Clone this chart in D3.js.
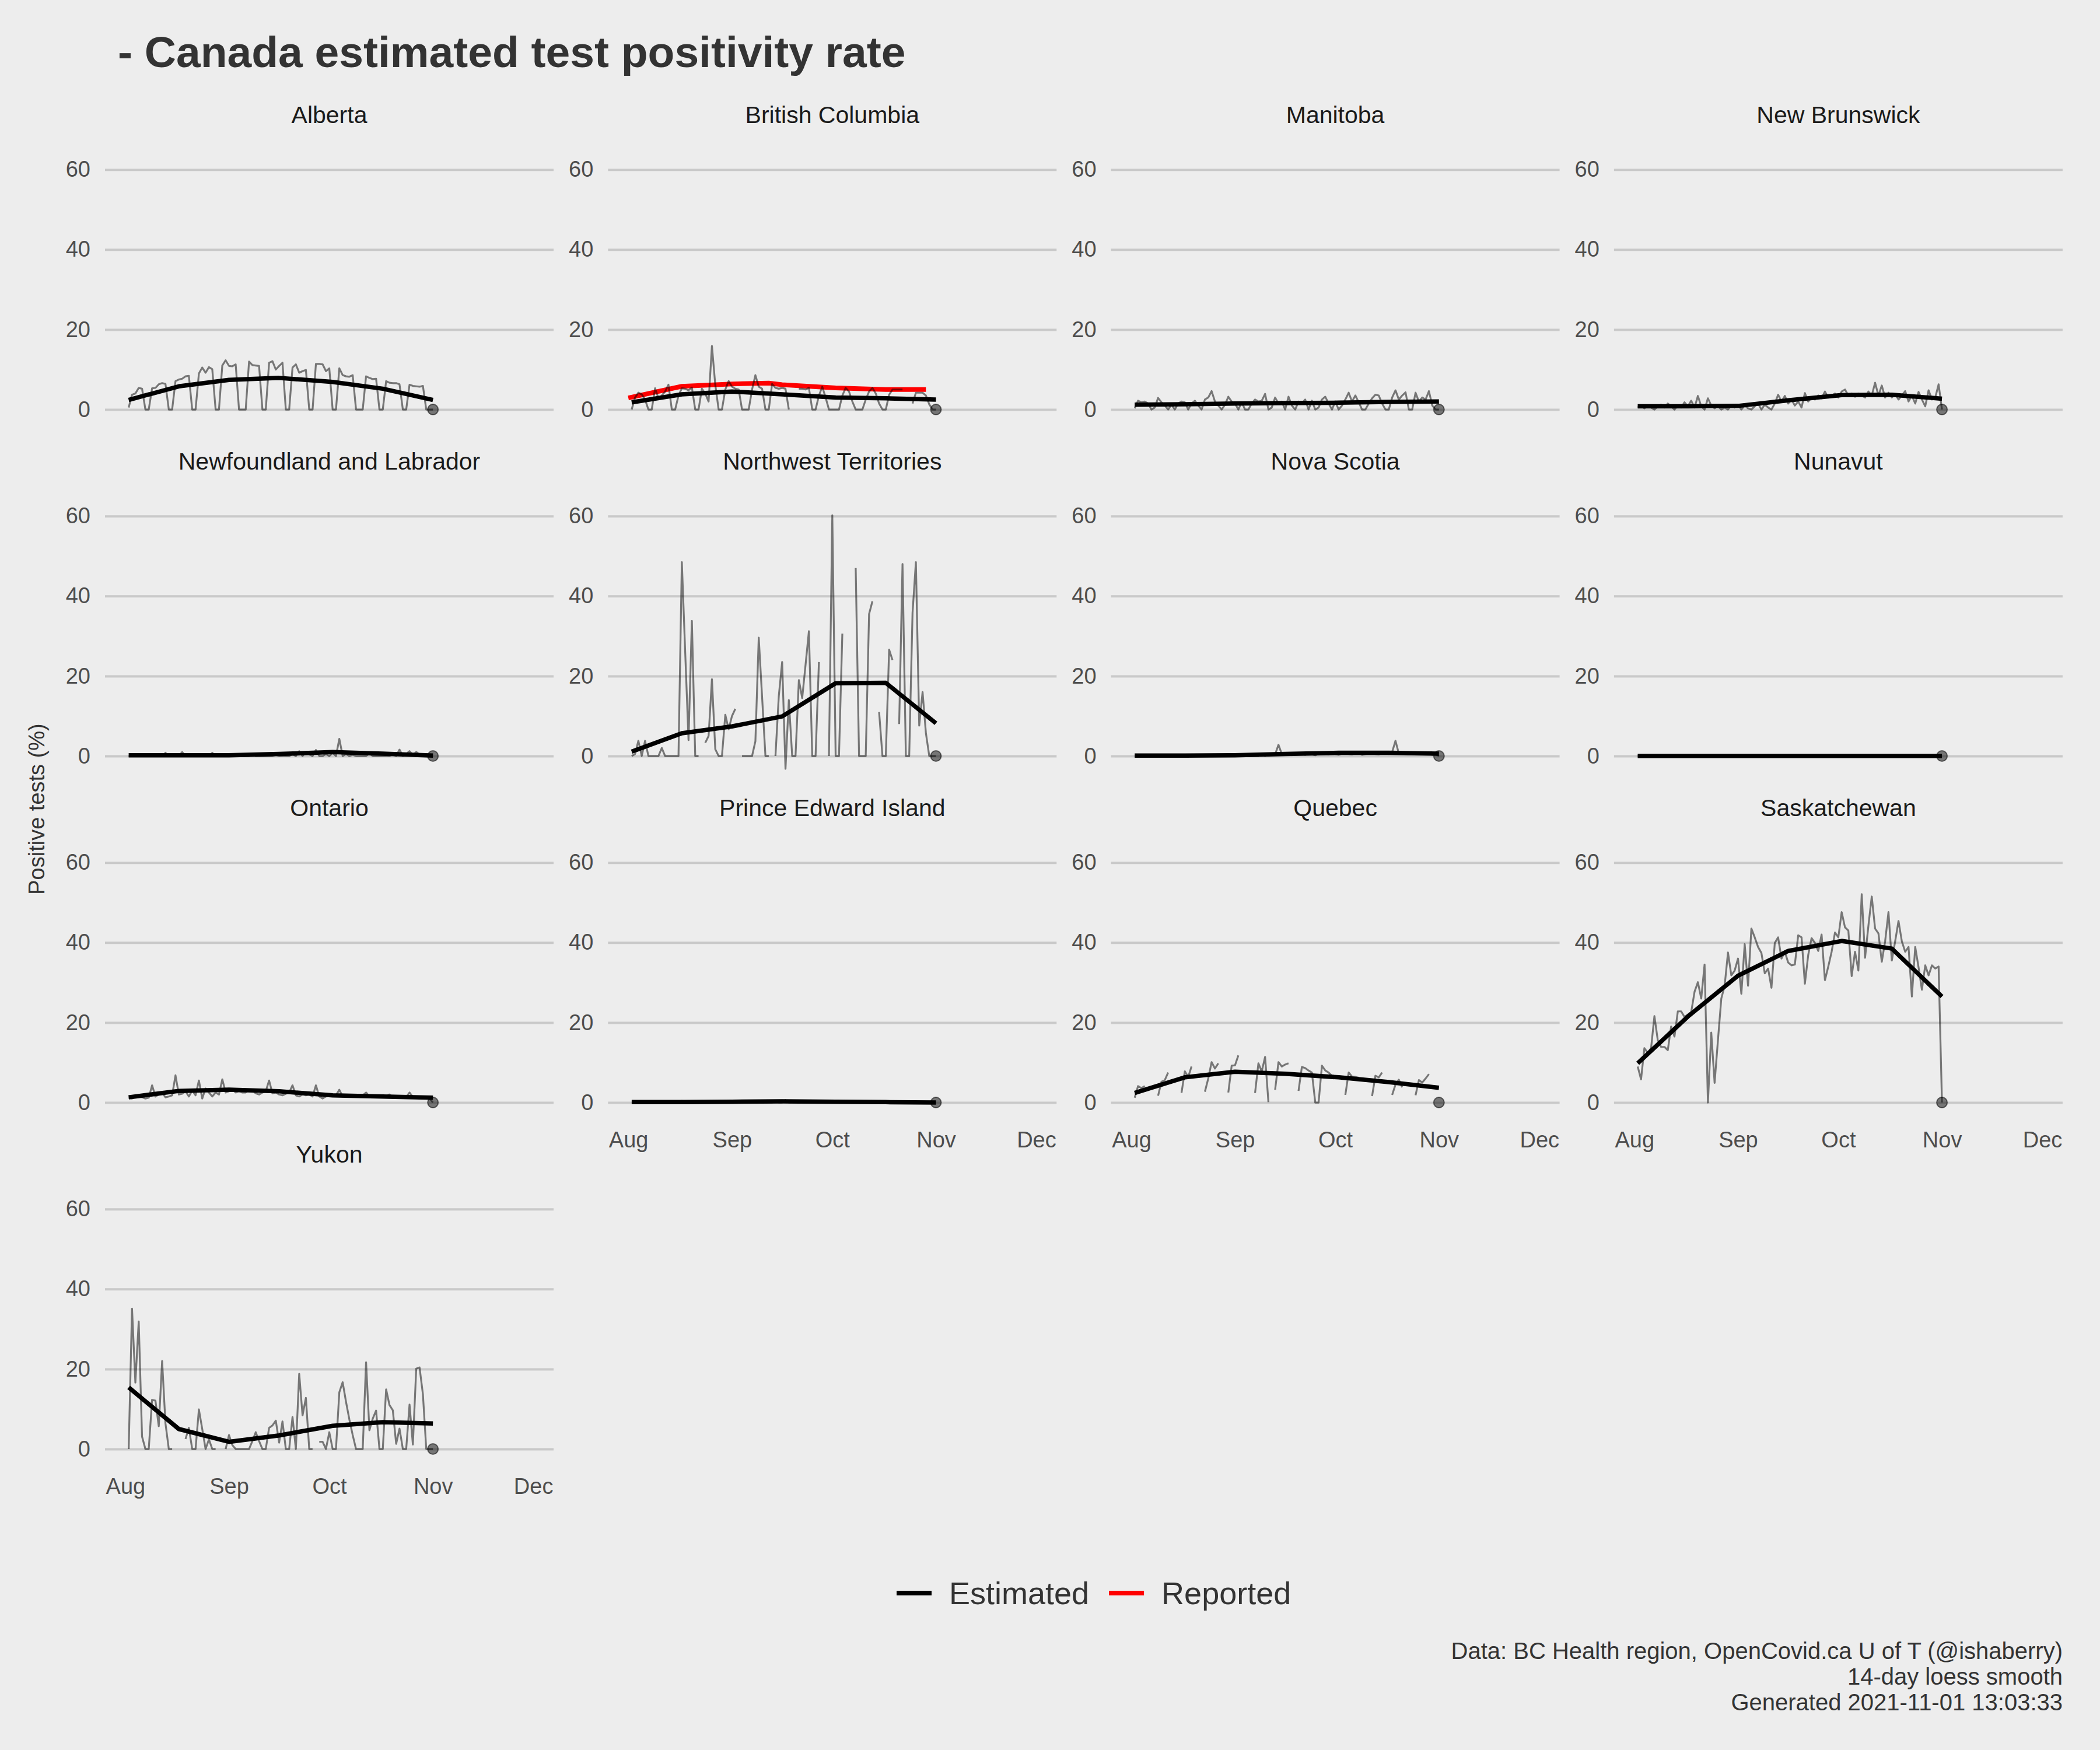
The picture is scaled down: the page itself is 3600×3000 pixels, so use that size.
<!DOCTYPE html>
<meta charset='utf-8'>
<style>
    body {
        margin: 0;
        background: #ededed;
    }
    text {
        font-family: 'Liberation Sans', Arial, sans-serif;
    }
</style>
<body>
<script src='https://d3js.org/d3.v7.min.js'></script>
<script>
    // Facets, in drawing order
    const provinces = [
        'Alberta', 'British Columbia', 'Manitoba', 'New Brunswick',
        'Newfoundland and Labrador', 'Northwest Territories', 'Nova Scotia', 'Nunavut',
        'Ontario', 'Prince Edward Island', 'Quebec', 'Saskatchewan', 'Yukon'
    ];

    // Daily positivity (%), one value per day from this date (Aug 1 .. Nov 1), null = no report
    const startDay = '2021-08-01';

    const rawAlberta = [
        null, 0.5, 3.7, 4.0, 5.4, 5.2, 0, 0, 5.3, 5.4,
        6.3, 6.6, 6.4, 0, 0, 7.1, 7.5, 7.7, 8.3, 8.4,
        0, 0, 9.0, 10.5, 9.2, 10.6, 10.1, 0, 0, 11.0,
        12.3, 10.9, 10.8, 11.3, 0, 0, 0, 12.0, 11.1, 11.0,
        10.9, 0, 0, 11.7, 12.1, 10.0, 10.9, 11.7, 0, 0,
        10.5, 11.3, 9.2, 9.6, 9.9, 0, 0, 11.4, 11.4, 11.3,
        9.6, 10.3, 0, 0, 10.3, 8.6, 8.3, 8.2, 8.6, 0,
        0, 0, 8.3, 7.9, 7.6, 7.7, 0, 0, 7.1, 6.7,
        6.6, 6.6, 6.3, 0, 0, 6.2, 5.9, 5.8, 5.7, 5.9,
        0, 0, 0
    ];
    const rawBC = [
        null, 0, 3.0, 4.2, 3.8, 2.5, 0, 0, 5.3, 2.8,
        3.5, 4.5, 6.2, 0, 0, 3.5, 5.3, 5.2, 4.8, 5.5,
        0, 0, 5.2, 4.0, 2.0, 15.9, 6.2, 0, 0, 5.0,
        7.1, 5.7, 5.2, 5.0, 0, 0, 0, 5.0, 8.6, 5.7,
        5.2, 0, 0, 6.4, 5.4, 5.2, 5.4, 5.2, 0, null,
        null, 5.2, 5.2, 5.0, 5.4, 0, 0, 3.5, 5.7, 3.0,
        0, 0, 0, 0, 3.5, 5.4, 4.5, 2.0, 0, 0,
        0, 2.5, 4.5, 5.4, 4.0, 1.5, 0, 0, 3.7, 5.0,
        5.0, 5.0, 5.0, null, null, 1.5, 4.2, 4.2, 4.2, 3.5,
        1.3, 0, 0
    ];
    const rawManitoba = [
        null, 0.3, 2.2, 1.8, 2.0, 1.5, 0, 0.5, 2.9, 1.8,
        1.0, 0, 1.2, 0, 1.5, 2.0, 1.8, 0, 1.5, 2.2,
        1.0, 0, 2.5, 3.0, 4.6, 2.0, 1.0, 0, 1.2, 3.2,
        2.0, 1.5, 0, 1.8, 0, 0, 1.5, 2.5, 2.0, 2.2,
        3.9, 0, 0.5, 3.0, 1.5, 2.0, 0, 3.2, 1.0, 0,
        2.0, 1.5, 2.5, 0, 2.2, 0, 0.5, 2.5, 3.2, 1.5,
        0, 2.0, 0, 1.0, 2.5, 4.2, 2.0, 3.5, 1.8, 0,
        0, 1.5, 2.8, 3.7, 3.5, 1.5, 0, 0, 3.0, 4.8,
        2.5, 3.5, 4.3, 0, 0, 4.2, 2.0, 3.0, 2.5, 4.6,
        1.0, 0, 0
    ];
    const rawNewBrunswick = [
        null, 0.5, 1.0, 0.3, 1.0, 0.5, 0, 0.8, 1.2, 0.5,
        1.5, 0.8, 0, 1.0, 0.5, 1.8, 0.8, 2.2, 0.5, 3.4,
        0.8, 0, 2.8, 1.0, 0.3, 0.8, 0, 0.5, 0, 1.0,
        0.5, 1.2, 0, 1.0, 0.3, 0, 0.8, 1.5, 0, 1.2,
        0.5, 0, 1.5, 3.7, 2.0, 3.4, 1.5, 2.5, 1.0, 2.0,
        0.5, 4.1, 2.0, 3.0, 2.5, 3.5, 2.8, 4.5, 3.0, 3.5,
        4.0, 3.0, 4.5, 5.0, 3.5, 4.0, 3.2, 4.0, 3.5, 3.0,
        4.5, 3.5, 6.7, 3.5, 6.0, 3.0, 4.2, 3.0, 3.8, 2.5,
        3.5, 4.6, 2.0, 3.5, 1.5, 4.4, 2.5, 0.8, 4.8, 2.5,
        3.0, 6.3, 0
    ];
    const rawNewfoundland = [
        null, 0, 0, 0, 0, 0, 0, 0, 0, 0,
        0, 0, 0.8, 0, 0, 0, 0, 1.0, 0, 0,
        0, 0, 0, 0, 0, 0, 0.8, 0, 0, 0,
        0, 0, 0, 0, 0, 0, 0, 0, 0.5, 0,
        0, 0, 0, 0, 0, 0.3, 0, 0, 0, 0,
        0.5, 0, 1.2, 0, 1.0, 0.4, 0, 1.5, 0, 0,
        0.5, 0, 0.8, 0, 4.3, 0, 0.5, 0, 0.3, 0,
        0, 0, 0, 0.6, 0, 0, 0, 0, 0, 0,
        0.4, 0, 1.6, 0, 0.5, 1.2, 0.3, 1.0, 0.4, 0,
        0, 0, 0
    ];
    const rawNorthwest = [
        null, 0, 0.5, 3.8, 0, 3.8, 0, 0, 0, 0,
        2.0, 0, 0, 0, 0, 0, 48.5, 26.0, 4.0, 33.8,
        0, 0, null, 3.3, 5.0, 19.2, 1.7, 0, 0, 10.3,
        6.7, 10.0, 11.8, null, 0, 0, 0, 0, 3.7, 29.6,
        14.8, 0, 0, null, 0, 15.0, 23.5, -3.2, 14.0, 0,
        0, 19.0, 14.5, 22.8, 31.2, 0, 0, 23.5, null, null,
        0, 60.2, 0, 0, 30.6, null, null, null, 47.0, 0,
        0, 0, 35.5, 38.7, null, 11.0, 0, 0, 26.6, 24.0,
        null, 8.0, 48.0, 0, 0, 35.8, 48.5, 7.6, 16.0, 5.7,
        0, 0, 0
    ];
    const rawNovaScotia = [
        null, 0, 0, 0, 0, 0, 0, 0, 0, 0,
        0, 0, 0, 0, 0, 0, 0, 0, 0, 0,
        0, 0, 0, 0, 0.2, 0, 0, 0, 0, 0,
        0, 0.2, 0, 0, 0, 0, 0, 0, 0, 0.5,
        0, 0.3, 0.6, 0.4, 2.8, 0.5, 0.3, 0.6, 0.2, 0.4,
        0.8, 0.5, 0.3, 0.7, 0.4, 0.2, 0.5, 0.8, 0.6, 0.4,
        0.9, 0.5, 0.3, 0.6, 0.8, 0.5, 0.4, 0.7, 0.9, 0.3,
        0.5, 0.6, 0.8, 0.5, 0.4, 0.7, 0.9, 0.5, 1.0, 3.8,
        0.6, 0.8, 0.5, 0.4, 0.6, 0.7, 0.5, 0.8, 0.4, 0.6,
        0.3, 0.5, 0
    ];
    const rawNunavut = [
        null, 0, 0, 0, 0, 0, 0, 0, 0, 0,
        0, 0, 0, 0, 0, 0, 0, 0, 0, 0,
        0, 0, 0, 0, 0, 0, 0, 0, 0, 0,
        0, 0, 0, 0, 0, 0, 0, 0, 0, 0,
        0, 0, 0, 0, 0, 0, 0, 0, 0, 0,
        0, 0, 0, 0, 0, 0, 0, 0, 0, 0,
        0, 0, 0, 0, 0, 0, 0, 0, 0, 0,
        0, 0, 0, 0, 0, 0, 0, 0, 0, 0,
        0, 0, 0, 0, 0, 0, 0, 0, 0, 0,
        0, 0, 0
    ];
    const rawOntario = [
        null, 1.2, 1.0, 1.5, 1.8, 1.3, 1.0, 1.2, 4.3, 1.5,
        2.0, 2.5, 1.3, 1.5, 1.8, 6.8, 2.0, 2.2, 2.8, 1.5,
        3.0, 1.8, 5.5, 1.0, 3.5, 2.5, 1.5, 2.5, 2.0, 5.8,
        2.5, 2.8, 3.2, 2.5, 2.8, 2.5, 2.5, 3.2, 3.0, 2.3,
        2.0, 2.5, 2.8, 5.5, 2.3, 2.5, 2.0, 1.8, 2.2, 2.5,
        4.3, 1.8, 1.5, 2.0, 1.8, 2.0, 1.5, 4.3, 1.5, 1.0,
        1.5, 1.8, 1.6, 1.8, 3.2, 1.5, 1.7, 1.6, 1.8, 1.5,
        1.6, 1.8, 2.5, 1.5, 1.4, 1.6, 1.5, 1.4, 1.6, 2.0,
        1.3, 1.4, 1.5, 1.3, 1.4, 2.5, 1.4, 1.2, 1.0, 1.4,
        1.2, 1.0, 0
    ];
    const rawPEI = [
        null, 0, 0, 0, 0, 0, 0, 0, 0, 0,
        0, 0, 0, 0, 0, 0, 0.4, 0, 0, 0,
        0, 0, 0, 0, 0, 0, 0, 0, 0, 0,
        0, 0, 0, 0, 0, 0, 0, 0, 0, 0,
        0, 0, 0, 0, 0.3, 0, 0, 0.6, 0, 0,
        0, 0, 0, 0, 0, 0, 0, 0, 0, 0,
        0, 0, 0, 0, 0, 0, 0, 0, 0, 0,
        0, 0, 0, 0, 0, 0, 0, 0, 0, 0,
        0, 0, 0, 0, 0, 0, 0, 0, 0, 0,
        0, 0, 0
    ];
    const rawQuebec = [
        null, 1.2, 4.1, 3.6, 4.1, null, null, null, 1.7, 5.2,
        5.6, 7.5, null, null, null, 2.4, 7.8, 6.4, 9.0, null,
        null, null, 2.7, 6.0, 10.1, 8.5, 9.8, null, null, 2.5,
        9.2, 9.3, 11.8, null, null, null, null, 2.4, 9.8, 7.8,
        11.4, 0.1, null, 3.2, 10.1, 9.0, 9.5, 9.8, null, null,
        2.9, 8.9, 8.6, 8.0, 7.5, 0, 0, 9.2, 8.0, 7.5,
        6.7, null, null, null, 1.9, 7.5, 6.5, 6.4, 6.2, null,
        null, null, 1.6, 6.7, 6.3, 7.5, null, null, 1.9, 4.5,
        5.7, 3.8, null, null, null, 1.8, 5.6, 5.0, 6.0, 7.1,
        null, null, 0
    ];
    const rawSaskatchewan = [
        null, 9.0, 5.8, 13.6, 12.4, 13.6, 21.6, 15.6, 13.9, 13.9,
        13.1, 19.0, 16.5, 22.8, 22.8, 21.4, 22.0, 22.6, 27.7, 30.1,
        26.0, 34.5, 0, 17.5, 4.9, 15.6, 26.0, 29.2, 37.5, 31.8,
        33.0, 36.0, 27.2, 39.6, 29.2, 43.5, 41.3, 38.9, 37.4, 32.3,
        33.5, 28.7, 39.9, 41.3, 36.0, 37.7, 35.0, 34.3, 34.5, 41.8,
        41.3, 29.7, 36.9, 41.1, 39.9, 37.9, 42.0, 30.6, 34.0, 37.7,
        42.5, 41.3, 47.6, 43.8, 43.0, 31.6, 37.7, 33.0, 52.1, 36.2,
        44.2, 51.5, 43.5, 42.3, 35.2, 40.3, 47.6, 35.5, 40.3, 45.4,
        40.3, 37.7, 38.9, 26.5, 38.9, 33.8, 28.2, 34.3, 31.8, 34.3,
        33.5, 34.0, 0
    ];
    const rawYukon = [
        null, 0, 35.1, 16.6, 31.9, 3.1, 0, 0, 12.3, 12.1,
        5.7, 22.0, 6.4, 0, 0, null, null, null, 2.5, 5.3,
        0, 0, 9.9, 5.0, 0, 2.4, 0, 0, null, null,
        0, 3.5, 1.0, 0, 0, 0, 0, 0, 2.0, 4.2,
        2.0, 0, 0, 5.3, 5.9, 7.1, 1.6, 6.9, 0, 0,
        8.0, 0, 18.8, 8.4, 12.8, 0, 0, null, 1.8, 1.8,
        0, 4.2, 0, 0, 14.2, 16.7, 11.8, 7.4, 3.5, 0,
        0, 0, 21.7, 4.7, 7.6, 9.6, 0, 0, 14.9, 11.0,
        9.7, 1.3, 5.1, 0, 0, 11.1, 1.1, 20.1, 20.4, 13.7,
        0, 0, 0
    ];

    // Estimated (14-day loess) values at these dates
    const smoothDates = ['2021-08-02', '2021-08-17', '2021-09-01', '2021-09-16', '2021-10-02', '2021-10-17', '2021-11-01'];
    const smoothAlberta = [2.4, 5.8, 7.4, 7.9, 6.9, 5.2, 2.4];
    const smoothBC = [1.8, 3.8, 4.5, 3.8, 3.0, 2.8, 2.5];
    const smoothManitoba = [1.2, 1.3, 1.5, 1.6, 1.7, 1.9, 2.0];
    const smoothNewBrunswick = [0.8, 0.8, 0.9, 2.3, 3.6, 3.7, 2.7];
    const smoothNewfoundland = [0.2, 0.2, 0.2, 0.5, 1.0, 0.6, 0.1];
    const smoothNorthwest = [1.1, 5.7, 7.4, 9.9, 18.2, 18.3, 8.2];
    const smoothNovaScotia = [0.1, 0.1, 0.2, 0.5, 0.8, 0.8, 0.6];
    const smoothNunavut = [0, 0, 0, 0, 0, 0, 0];
    const smoothOntario = [1.3, 2.9, 3.2, 2.8, 1.8, 1.5, 1.2];
    const smoothPEI = [0.1, 0.1, 0.2, 0.3, 0.2, 0.1, 0.0];
    const smoothQuebec = [2.4, 6.3, 7.7, 7.2, 6.3, 5.1, 3.7];
    const smoothSaskatchewan = [9.8, 21.5, 31.7, 37.9, 40.4, 38.5, 26.5];
    const smoothYukon = [15.4, 5.0, 1.8, 3.4, 5.8, 6.7, 6.4];

    // Reported positivity (BC only)
    const reportedDates = ['2021-08-01', '2021-08-17', '2021-09-01', '2021-09-12', '2021-09-16', '2021-10-02', '2021-10-17', '2021-10-29'];
    const reportedBC = [2.9, 5.8, 6.4, 6.6, 6.2, 5.4, 5.0, 5.0];

    const monthTicks = ['2021-08-01', '2021-09-01', '2021-10-01', '2021-11-01', '2021-12-01'];
    const yTicks = [0, 20, 40, 60];

    const captionLines = [
        'Data: BC Health region, OpenCovid.ca U of T (@ishaberry)',
        '14-day loess smooth',
        'Generated 2021-11-01 13:03:33'
    ];

    // Lookup tables
    const rawByProvince = {
        'Alberta': rawAlberta, 'British Columbia': rawBC, 'Manitoba': rawManitoba,
        'New Brunswick': rawNewBrunswick, 'Newfoundland and Labrador': rawNewfoundland,
        'Northwest Territories': rawNorthwest, 'Nova Scotia': rawNovaScotia, 'Nunavut': rawNunavut,
        'Ontario': rawOntario, 'Prince Edward Island': rawPEI, 'Quebec': rawQuebec,
        'Saskatchewan': rawSaskatchewan, 'Yukon': rawYukon
    };
    const smoothByProvince = {
        'Alberta': smoothAlberta, 'British Columbia': smoothBC, 'Manitoba': smoothManitoba,
        'New Brunswick': smoothNewBrunswick, 'Newfoundland and Labrador': smoothNewfoundland,
        'Northwest Territories': smoothNorthwest, 'Nova Scotia': smoothNovaScotia, 'Nunavut': smoothNunavut,
        'Ontario': smoothOntario, 'Prince Edward Island': smoothPEI, 'Quebec': smoothQuebec,
        'Saskatchewan': smoothSaskatchewan, 'Yukon': smoothYukon
    };
    const reportedByProvince = { 'British Columbia': reportedBC };

    const parse = d3.timeParse('%Y-%m-%d');
    const start = parse(startDay);
    const days = d3.timeDay.range(start, d3.timeDay.offset(start, rawAlberta.length));

    // Layout
    const W = 3600, H = 3000;
    const panelW = 769, panelH = 478.5;
    const left0 = 180, top0 = 267.4, colStep = 862.3, rowStep = 594;
    const fontFamily = "'Liberation Sans', Arial, sans-serif";

    const svg = d3.select('body').append('svg')
        .attr('width', W)
        .attr('height', H);

    svg.append('rect')
        .attr('width', W)
        .attr('height', H)
        .attr('fill', '#ededed');

    const x = d3.scaleTime()
        .domain([d3.timeHour.offset(parse('2021-08-01'), -146), d3.timeHour.offset(parse('2021-12-01'), 146)])
        .range([0, panelW]);
    const y = d3.scaleLinear()
        .domain([-6.4, 63.4])
        .range([panelH, 0]);

    const line = d3.line()
        .defined(d => d.v != null)
        .x(d => x(d.date))
        .y(d => y(d.v));

    provinces.forEach((name, i) => {
        const col = i % 4, row = Math.floor(i / 4);
        const g = svg.append('g')
            .attr('transform', `translate(${left0 + col * colStep},${top0 + row * rowStep})`);

        // Grid + y labels
        g.append('g')
            .call(d3.axisLeft(y).tickValues(yTicks).tickSize(-panelW).tickPadding(25))
            .attr('font-size', 38)
            .attr('font-family', fontFamily)
            .call(a => a.select('.domain').remove())
            .call(a => a.selectAll('line').attr('stroke', '#c9c9c9').attr('stroke-width', 4))
            .call(a => a.selectAll('text').attr('fill', '#4d4d4d'));

        // Strip label
        g.append('text')
            .attr('x', panelW / 2)
            .attr('y', y(60) - 80)
            .attr('text-anchor', 'middle')
            .attr('font-size', 41)
            .attr('fill', '#1a1a1a')
            .text(name);

        // x labels only where no panel sits below
        if (i + 4 >= provinces.length) {
            g.append('g')
                .attr('transform', `translate(0,${panelH})`)
                .call(d3.axisBottom(x)
                    .tickValues(monthTicks.map(parse))
                    .tickFormat(d3.timeFormat('%b'))
                    .tickSize(0)
                    .tickPadding(6))
                .attr('font-size', 38)
                .attr('font-family', fontFamily)
                .call(a => a.select('.domain').remove())
                .call(a => a.selectAll('text').attr('fill', '#4d4d4d'));
        }

        // Reported
        const rep = reportedByProvince[name];
        if (rep) {
            g.append('path')
                .datum(reportedDates.map((d, k) => ({ date: parse(d), v: rep[k] })))
                .attr('fill', 'none')
                .attr('stroke', '#ff0000')
                .attr('stroke-width', 8)
                .attr('stroke-linejoin', 'round')
                .attr('d', line);
        }

        // Daily values
        const raw = rawByProvince[name];
        const rawPoints = days.map((date, k) => ({ date, v: raw[k] }));
        g.append('path')
            .datum(rawPoints)
            .attr('fill', 'none')
            .attr('stroke', '#000')
            .attr('stroke-opacity', 0.5)
            .attr('stroke-width', 3.2)
            .attr('stroke-linejoin', 'round')
            .attr('d', line);

        // Estimated smooth
        const sm = smoothByProvince[name];
        g.append('path')
            .datum(smoothDates.map((d, k) => ({ date: parse(d), v: sm[k] })))
            .attr('fill', 'none')
            .attr('stroke', '#000')
            .attr('stroke-width', 7.5)
            .attr('stroke-linejoin', 'round')
            .attr('d', line);

        // Latest day point
        const last = rawPoints[rawPoints.length - 1];
        g.append('circle')
            .attr('cx', x(last.date))
            .attr('cy', y(last.v))
            .attr('r', 9)
            .attr('fill', '#000')
            .attr('fill-opacity', 0.5)
            .attr('stroke', '#000')
            .attr('stroke-opacity', 0.55)
            .attr('stroke-width', 2);
    });

    // Title
    svg.append('text')
        .attr('x', 202)
        .attr('y', 115)
        .attr('font-size', 75)
        .attr('font-weight', 'bold')
        .attr('fill', '#333')
        .text('- Canada estimated test positivity rate');

    // Y axis title
    svg.append('text')
        .attr('transform', 'translate(76,1387) rotate(-90)')
        .attr('text-anchor', 'middle')
        .attr('font-size', 38)
        .attr('fill', '#333')
        .text('Positive tests (%)');

    // Legend
    const legendItems = [
        { name: 'Estimated', color: '#000' },
        { name: 'Reported', color: '#ff0000' }
    ];
    const legend = svg.append('g').attr('class', 'legend-holder');
    let lx = 1537;
    legendItems.forEach(item => {
        legend.append('line')
            .attr('x1', lx).attr('x2', lx + 60)
            .attr('y1', 2731).attr('y2', 2731)
            .attr('stroke', item.color)
            .attr('stroke-width', 8);
        const t = legend.append('text')
            .attr('x', lx + 90)
            .attr('y', 2750)
            .attr('font-size', 54)
            .attr('fill', '#333')
            .text(item.name);
        lx += 90 + t.node().getComputedTextLength() + 34;
    });

    // Caption
    svg.append('g').selectAll('text')
        .data(captionLines)
        .enter().append('text')
            .attr('x', 3536)
            .attr('y', (d, i) => 2844 + i * 44)
            .attr('text-anchor', 'end')
            .attr('font-size', 40)
            .attr('fill', '#333')
            .text(d => d);
</script>
</body>
